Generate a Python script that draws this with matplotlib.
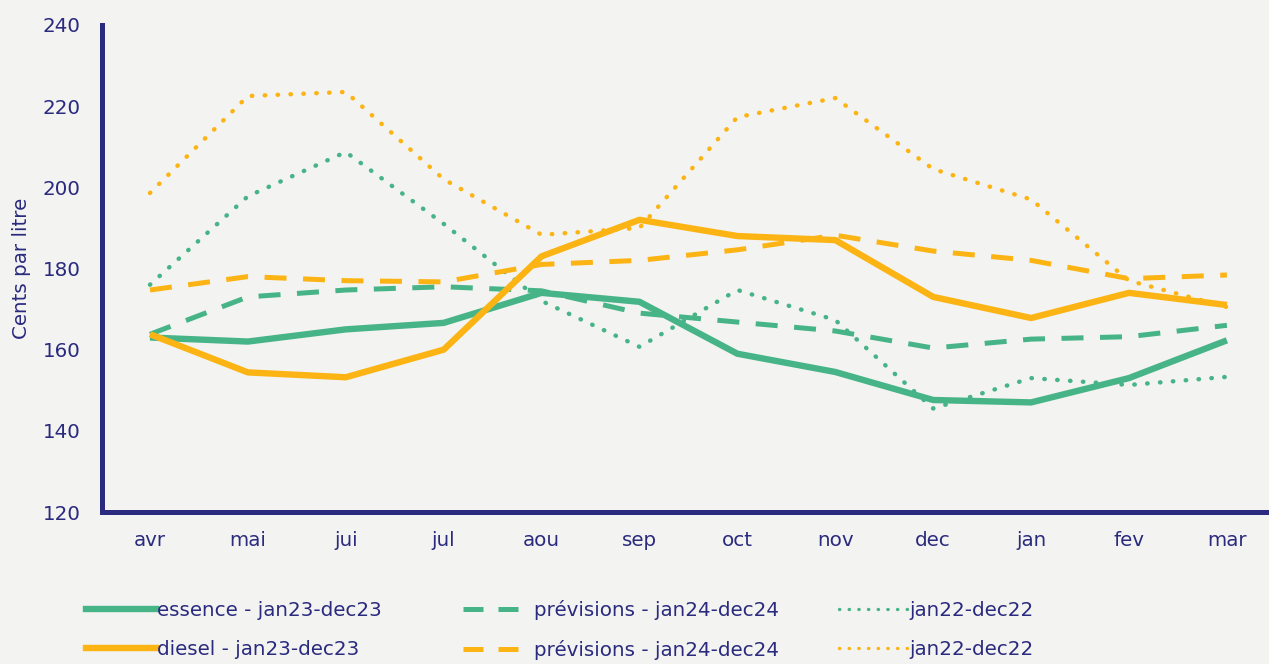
import matplotlib
matplotlib.use('Agg')
import matplotlib.pyplot as plt
from matplotlib.lines import Line2D

# mois (avril -> mars)
months = ['avr', 'mai', 'jui', 'jul', 'aou', 'sep', 'oct', 'nov', 'dec', 'jan', 'fev', 'mar']

essence_23 = [163, 162, 165, 166.6, 174, 171.8, 159, 154.5, 147.6, 147, 153, 162.3]
diesel_23 = [163.8, 154.4, 153.2, 160, 183, 192, 188, 187, 173, 167.8, 174, 171]
essence_prev = [163.8, 173, 174.7, 175.5, 174.5, 169, 166.8, 164.6, 160.4, 162.6, 163.2, 166]
diesel_prev = [174.7, 178, 177, 176.7, 181, 182, 184.6, 188.2, 184.3, 182, 177.5, 178.4]
essence_22 = [176, 197.8, 208.7, 191, 172, 160.7, 174.7, 167.3, 145.5, 153, 151.3, 153.3]
diesel_22 = [198.6, 222.5, 223.5, 202, 188.3, 190, 217.3, 222, 204.5, 197, 177, 170.5]

labels = ['essence - jan23-dec23', 'diesel - jan23-dec23',
          'prévisions - jan24-dec24', 'prévisions - jan24-dec24',
          'jan22-dec22', 'jan22-dec22']

GREEN = '#47b488'
ORANGE = '#fcb415'
NAVY = '#2a2a7e'
BG = '#f3f3f1'
FS = 14.3

plt.rcParams['font.family'] = ['DejaVu Sans']

fig = plt.figure(figsize=(12.69, 6.64), dpi=100, facecolor=BG)
ax = fig.add_axes([102 / 1269, 152 / 664, 1167 / 1269, 487 / 664])
ax.set_facecolor(BG)

x = list(range(len(months)))
dot = (0, (0.1, 2.8))
dash = (0, (4.4, 3.3))

ax.plot(x, essence_22, color=GREEN, lw=3.2, ls=dot, dash_capstyle='round')
ax.plot(x, diesel_22, color=ORANGE, lw=3.2, ls=dot, dash_capstyle='round')
ax.plot(x, essence_prev, color=GREEN, lw=3.6, ls=dash)
ax.plot(x, diesel_prev, color=ORANGE, lw=3.6, ls=dash)
ax.plot(x, essence_23, color=GREEN, lw=4.6, solid_capstyle='butt')
ax.plot(x, diesel_23, color=ORANGE, lw=4.6, solid_capstyle='butt')

ax.set_xlim(-0.49, 11.43)
ax.set_ylim(120, 240)
ax.set_yticks([120, 140, 160, 180, 200, 220, 240])
ax.set_xticks(x)
ax.set_xticklabels(months)

for s in ['top', 'right']:
    ax.spines[s].set_visible(False)
for s in ['left', 'bottom']:
    ax.spines[s].set_color(NAVY)
    ax.spines[s].set_linewidth(3.6)
ax.tick_params(axis='both', length=0, labelsize=FS, labelcolor=NAVY)
ax.tick_params(axis='y', pad=15.5)
ax.tick_params(axis='x', pad=14)
ax.set_ylabel('Cents par litre', color=NAVY, fontsize=FS, labelpad=8)

# legende en 3 colonnes, placees a la main
def h(color, ls, lw):
    return Line2D([], [], color=color, ls=ls, lw=lw, dash_capstyle='round' if ls == dot else 'butt')

cols = [
    ([h(GREEN, '-', 4.6), h(ORANGE, '-', 4.6)], labels[0:2], 86),
    ([h(GREEN, (0, (4, 3)), 3.6), h(ORANGE, (0, (4, 3)), 3.6)], labels[2:4], 463),
    ([h(GREEN, dot, 2.4), h(ORANGE, dot, 2.4)], labels[4:6], 839),
]
for handles, labs, px in cols:
    fig.legend(handles, labs, loc='center left', bbox_to_anchor=(px / 1269, 34 / 664),
               frameon=False, fontsize=FS, labelcolor=NAVY, handlelength=3.5,
               handletextpad=0.05, borderpad=0, borderaxespad=0, labelspacing=1.05)

fig.savefig('out.png', dpi=100, facecolor=BG)
